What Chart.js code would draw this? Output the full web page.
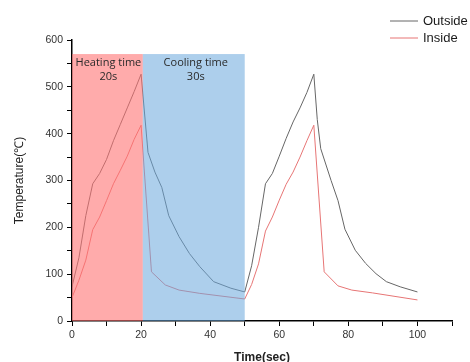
<!DOCTYPE html>
<html>
<head>
<meta charset="utf-8">
<script src="https://cdn.jsdelivr.net/npm/chart.js@4"></script>
<style>
  html, body { margin: 0; padding: 0; background: #fff; }
  #wrap { width: 470px; height: 362px; }
</style>
</head>
<body>
<div id="wrap"><canvas id="chart" width="470" height="362"></canvas></div>
<script>
// Outside (surface) temperature
const outsideTime = [0, 2, 4, 6, 8, 10, 12, 14, 16, 18, 20, 22, 24, 26, 28, 31, 34, 37, 41, 46, 50,
    52, 54, 56, 58, 60, 62, 64, 66, 68, 70, 71, 72, 75, 77, 79, 82, 85, 88, 91, 95, 100];
const outsideTemp = [73, 135, 225, 293, 315, 345, 385, 420, 455, 490, 527, 360, 318, 285, 225, 180, 144, 116, 84, 70, 62,
    118, 200, 293, 315, 352, 390, 425, 455, 488, 527, 430, 368, 300, 257, 196, 151, 123, 101, 84, 73, 62];

// Inside temperature
const insideTime = [0, 2, 4, 6, 8, 10, 12, 14, 16, 18, 20, 23, 27, 31, 37, 50,
    52, 54, 56, 58, 60, 62, 64, 66, 68, 70, 73, 77, 81, 87, 100];
const insideTemp = [50, 87, 130, 195, 222, 257, 293, 322, 352, 388, 418, 105, 77, 66, 59, 47,
    78, 122, 192, 222, 258, 292, 318, 350, 385, 418, 105, 75, 66, 60, 45];

// shaded phases
const bandLabels = [['Heating time', '20s'], ['Cooling time', '30s']];
const bandStart = [0, 20.5];
const bandEnd = [20.5, 50];
const bandTop = 570;
const bandColors = ['rgba(255,115,115,0.6)', 'rgba(105,168,220,0.55)'];

const xTicks = [0, 20, 40, 60, 80, 100];
const yTicks = [0, 100, 200, 300, 400, 500, 600];

const bandsPlugin = {
    id: 'bands',
    afterDatasetsDraw(chart) {
        const { ctx, scales: { x, y } } = chart;
        ctx.save();
        bandStart.forEach((s, i) => {
            const x0 = x.getPixelForValue(s);
            const x1 = x.getPixelForValue(bandEnd[i]);
            const yt = y.getPixelForValue(bandTop);
            const yb = y.getPixelForValue(0);
            ctx.fillStyle = bandColors[i];
            ctx.fillRect(x0, yt, x1 - x0, yb - yt);
            ctx.fillStyle = '#2a2a2a';
            ctx.font = '11px "Open Sans", sans-serif';
            ctx.textAlign = 'center';
            ctx.textBaseline = 'middle';
            const cx = (x0 + x1) / 2 + (i === 0 ? 1 : 2);
            ctx.fillText(bandLabels[i][0], cx, yt + 9);
            ctx.fillText(bandLabels[i][1], cx, yt + 23);
        });
        ctx.restore();
    }
};

const legendPlugin = {
    id: 'sideLegend',
    afterDraw(chart) {
        const { ctx } = chart;
        ctx.save();
        ctx.font = '13px "Liberation Sans", Arial, sans-serif';
        ctx.textBaseline = 'middle';
        chart.data.datasets.forEach((ds, i) => {
            const yy = 21 + i * 17;
            ctx.strokeStyle = ds.borderColor;
            ctx.lineWidth = 1;
            ctx.beginPath();
            ctx.moveTo(390, yy);
            ctx.lineTo(418, yy);
            ctx.stroke();
            ctx.fillStyle = '#1a1a1a';
            ctx.fillText(ds.label, 423, yy);
        });
        ctx.restore();
    }
};

const tickFont = { family: '"Liberation Sans", Arial, sans-serif', size: 10.5 };

new Chart(document.getElementById('chart'), {
    type: 'line',
    data: {
        datasets: [
            {
                label: 'Outside',
                data: outsideTime.map((t, i) => ({ x: t, y: outsideTemp[i] })),
                borderColor: '#666666',
                borderWidth: 1,
                pointRadius: 0,
                tension: 0
            },
            {
                label: 'Inside',
                data: insideTime.map((t, i) => ({ x: t, y: insideTemp[i] })),
                borderColor: '#e77575',
                borderWidth: 1,
                pointRadius: 0,
                tension: 0
            }
        ]
    },
    options: {
        responsive: false,
        animation: false,
        layout: { padding: { left: 0, right: 18, top: 40, bottom: 0 } },
        plugins: {
            legend: { display: false },
            tooltip: { enabled: false }
        },
        scales: {
            x: {
                type: 'linear',
                min: 0,
                max: 110,
                afterFit: s => { s.height = 41; },
                ticks: {
                    stepSize: 10,
                    autoSkip: false,
                    maxRotation: 0,
                    padding: 3,
                    color: '#333',
                    font: tickFont,
                    callback: v => xTicks.includes(v) ? v : ''
                },
                grid: { drawOnChartArea: false, drawTicks: true, tickLength: 5, color: '#000' },
                border: { color: '#000', width: 1.5 },
                title: {
                    display: true,
                    text: 'Time(sec)',
                    color: '#222',
                    font: { family: '"Liberation Sans", Arial, sans-serif', size: 12, weight: 'bold' },
                    padding: { top: 0, bottom: -3 }
                }
            },
            y: {
                min: 0,
                max: 600,
                afterFit: s => { s.width = 72; },
                ticks: {
                    stepSize: 50,
                    autoSkip: false,
                    padding: 4,
                    color: '#333',
                    font: tickFont,
                    callback: v => yTicks.includes(v) ? v : ''
                },
                grid: { drawOnChartArea: false, drawTicks: true, tickLength: 5, color: '#000' },
                border: { color: '#000', width: 1.5 },
                title: {
                    display: true,
                    text: 'Temperature(℃)',
                    color: '#222',
                    font: { family: '"Liberation Sans", Arial, sans-serif', size: 12 },
                    padding: { top: 12, bottom: 0 }
                }
            }
        }
    },
    plugins: [bandsPlugin, legendPlugin]
});
</script>
</body>
</html>
